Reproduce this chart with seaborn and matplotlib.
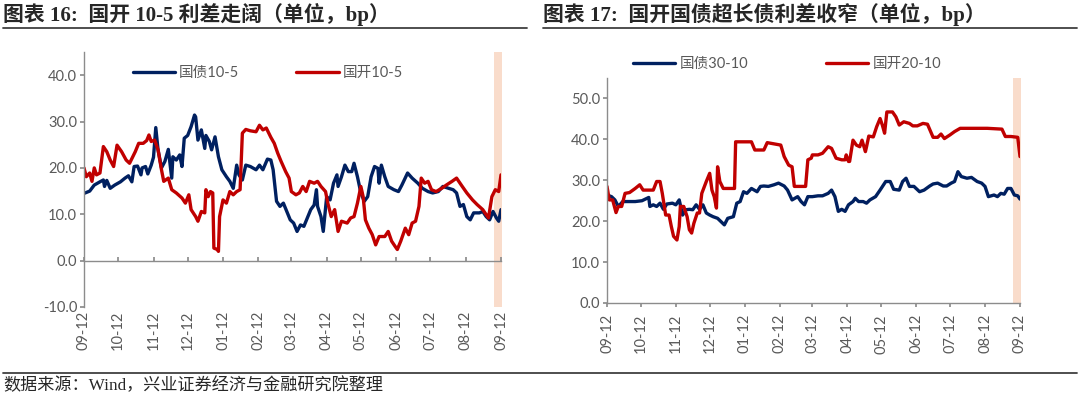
import pandas as pd
import matplotlib
matplotlib.use("Agg")
import matplotlib.pyplot as plt
import matplotlib.dates as mdates
from matplotlib.ticker import FormatStrFormatter, MultipleLocator
from matplotlib.lines import Line2D
import seaborn as sns

start = pd.Timestamp("2023-09-12")

# 图表16 (days after 2023-09-12, bp)
gz105_days = [0, 5, 9, 14, 17, 18, 20, 23, 27, 32, 36, 39, 42, 44, 47, 50, 51, 54, 56, 59,
              61, 63, 65, 68, 71, 74, 77, 78, 81, 84, 86, 88, 91, 94, 97, 98, 100, 103, 106, 107,
              110, 112, 115, 118, 121, 125, 128, 131, 134, 136, 139, 142, 146, 151, 154, 157, 161, 164, 166, 169,
              172, 175, 178, 181, 184, 187, 190, 193, 196, 199, 202, 204, 205, 208, 210, 213, 216, 219, 222, 223,
              226, 229, 232, 235, 237, 240, 243, 246, 249, 252, 255, 258, 259, 261, 264, 267, 272, 276, 279, 284,
              288, 293, 297, 302, 306, 311, 315, 320, 324, 327, 330, 333, 336, 339, 342, 347, 350, 353, 356, 359,
              362, 364, 366]
gz105_vals = [14.5, 15, 16.3, 17, 17.4, 16, 17.3, 15.6, 16.3, 17, 17.8, 18.3, 17, 20.3, 20.4, 18.5, 20, 20.3, 18.7, 20.6,
              22.3, 28.7, 23.9, 20, 21.4, 24, 17.8, 22.4, 21.7, 22.8, 20.3, 26.4, 27, 28.9, 31.4, 31, 26, 28.2, 24.2, 27,
              25.7, 23.9, 26.7, 22.4, 19.6, 18.1, 17.1, 15.6, 20.6, 18.5, 17.4, 20.6, 20.3, 19.6, 20.6, 19.6, 21.9, 21.7, 19.6, 12.8,
              11.7, 12.4, 10.6, 8.8, 8.1, 6.3, 7.7, 7.4, 9.2, 11, 12, 15.3, 11.7, 9.5, 6.3, 13.8, 13.1, 16.7, 18.5, 16,
              18.1, 20.6, 19.2, 19.2, 21, 18.1, 14.6, 12.8, 13.8, 18.1, 20.3, 19.9, 16.7, 20.6, 18.1, 16, 15.3, 14.9, 16.3, 18.9,
              17.8, 16.7, 15.6, 14.9, 14.6, 14.9, 16, 15.6, 15.3, 14.6, 11.7, 12.1, 9.5, 8.8, 10.3, 10.3, 10.6, 9.5, 8.8, 10.6,
              9.2, 8.5, 11]
gk105_days = [0, 2, 5, 7, 9, 11, 14, 17, 20, 23, 26, 29, 33, 37, 40, 45, 48, 52, 55, 57,
              59, 62, 65, 68, 70, 74, 77, 81, 86, 89, 92, 94, 98, 100, 103, 106, 107, 109, 111, 113,
              114, 117, 118, 119, 122, 125, 128, 131, 134, 137, 139, 142, 146, 151, 154, 157, 160, 164, 167, 170,
              173, 177, 180, 182, 186, 189, 192, 195, 198, 202, 205, 208, 212, 214, 217, 220, 223, 226, 231, 234,
              237, 240, 243, 245, 247, 250, 253, 256, 259, 264, 267, 270, 273, 275, 278, 282, 285, 288, 291, 294,
              296, 299, 302, 305, 309, 314, 318, 323, 327, 332, 336, 341, 345, 350, 355, 358, 361, 364, 366]
gk105_vals = [20, 18.1, 18.9, 17.1, 20, 18.5, 18.9, 24.6, 23.5, 21.7, 20.3, 24.9, 23.5, 21.7, 21, 23.5, 25.3, 25.3, 25.9, 27.1,
              25.7, 26, 23.9, 19.6, 17.1, 17.8, 15.3, 14.6, 13.5, 12.4, 14.2, 11, 9.5, 8.5, 10.6, 10.3, 15.3, 13.8, 14.9, 14.6,
              2.7, 2.4, 2, 9.5, 13.1, 12.4, 14.9, 14.2, 14.9, 15.3, 27.5, 28.3, 28, 27.8, 29.2, 28.2, 28.6, 26.6, 25.3, 23.2,
              21.4, 19.2, 17.8, 14.9, 14.2, 14.6, 16, 14.9, 17.1, 16.7, 17.1, 16, 14.9, 12.4, 9.5, 11, 6.3, 8.5, 8.1, 9.2,
              9.5, 12.4, 16, 13.8, 8.8, 7, 5.6, 3.4, 5.2, 5.2, 6.3, 4.2, 3.1, 2.4, 4.2, 7, 5.6, 8.1, 8.5, 11.7,
              17.8, 16.7, 17.1, 15.3, 14.9, 15.6, 16.3, 17.1, 17.8, 16, 14.6, 13.1, 12.1, 11, 9.2, 13.8, 15.3, 14.9, 18.5]

# 图表17
gz3010_days = [0, 4, 7, 10, 14, 19, 25, 31, 37, 38, 41, 44, 47, 50, 53, 58, 61, 64, 67, 70,
               73, 76, 79, 82, 85, 88, 91, 94, 98, 101, 104, 107, 112, 115, 118, 121, 124, 128, 133, 136,
               139, 143, 148, 152, 157, 160, 164, 169, 172, 175, 178, 182, 187, 191, 196, 199, 202, 205, 208, 211,
               214, 218, 220, 223, 227, 230, 233, 238, 242, 247, 251, 254, 259, 262, 265, 268, 272, 277, 281, 286,
               289, 293, 298, 301, 305, 308, 311, 314, 319, 323, 328, 332, 335, 338, 343, 346, 349, 352, 355, 358,
               361, 364, 366]
gz3010_vals = [26.4, 26, 25.2, 23.6, 24.8, 24.8, 24.8, 25, 25.8, 23.6, 24, 23.6, 24.4, 22.9, 24.2, 24.4, 24, 25.2, 21.5, 22.8,
               22.9, 22.8, 24, 22.9, 24, 22, 21.5, 21.1, 20.7, 19.9, 19.1, 20.7, 21.1, 24.4, 24.8, 27.2, 26.8, 28, 27.2, 28.5,
               28.6, 28.5, 28.9, 29.3, 28.6, 27.6, 25.2, 26, 24.8, 24, 26, 26, 26.2, 26.2, 26.8, 27.6, 26, 22.4, 22.9, 22.4,
               24, 24.8, 25.6, 24.8, 24.8, 24.4, 25.2, 26, 27.6, 29.7, 29.7, 27.8, 27.6, 29.7, 30.5, 28.5, 28.5, 27.2, 27.6, 28.6,
               29.1, 29.3, 28.6, 28.6, 29.3, 29.7, 32.1, 30.9, 30.5, 30.7, 29.7, 29.3, 28.5, 26, 26.4, 26, 26.8, 26.6, 28, 28,
               26.4, 26.2, 25.4]
gk2010_days = [0, 2, 5, 8, 10, 13, 16, 20, 25, 29, 32, 37, 41, 44, 47, 49, 52, 55, 57, 59,
               62, 64, 65, 68, 71, 73, 75, 77, 80, 82, 84, 88, 91, 93, 95, 97, 98, 100, 103, 109,
               113, 114, 121, 128, 131, 139, 142, 148, 154, 157, 161, 164, 166, 169, 176, 178, 181, 182, 187, 191,
               196, 199, 203, 208, 211, 212, 214, 215, 218, 221, 224, 226, 229, 230, 232, 236, 239, 242, 244, 246,
               248, 253, 256, 259, 263, 268, 271, 275, 280, 284, 289, 293, 296, 299, 304, 308, 313, 325, 337, 350,
               353, 358, 364, 366]
gk2010_vals = [28.5, 25.2, 25.2, 22.1, 23.6, 23.6, 26.8, 27, 28, 28.9, 27.6, 27.6, 27.6, 29.7, 29.7, 26.8, 21.5, 21.5, 18.7, 16.3,
               15.4, 18.7, 23.6, 23.6, 21.1, 17.9, 17.1, 19.5, 22, 22, 26.8, 29.7, 31.7, 27.6, 26, 23.2, 33.3, 29.7, 28, 28,
               28, 39.4, 39.4, 39.4, 37.4, 37.4, 39.2, 38.9, 38.6, 35.8, 33.7, 33.3, 28.5, 28.5, 28.5, 35, 35.4, 36.2, 36.2, 36.6,
               38.2, 37.8, 35.4, 35, 35, 36.2, 34.6, 34.6, 39.8, 38.6, 38.2, 39.8, 37, 38.2, 40.8, 40.6, 43.1, 45.1, 43.5, 41.5,
               46.7, 46.7, 45.5, 43.5, 44.3, 43.9, 43.3, 43.3, 43.9, 43.7, 40.5, 40.5, 41.3, 40.2, 41.1, 41.9, 42.7, 42.7, 42.7, 42.5,
               40.7, 40.7, 40.5, 35.8]

titles = ["图表 16:  国开 10-5 利差走阔（单位，bp）", "图表 17:  国开国债超长债利差收窄（单位，bp）"]
source = "数据来源：Wind，兴业证券经济与金融研究院整理"

BLUE = "#002060"
RED = "#C00000"
GREY = "#595959"
AXIS = "#8C8C8C"
BAND = "#F9DCCB"

sns.set_theme(style="white")
plt.rcParams["font.family"] = ["Lato", "Noto Sans CJK SC"]
serif = ["Liberation Serif", "Noto Sans CJK SC"]


def frame(days, vals):
    return pd.DataFrame({"date": start + pd.to_timedelta(days, unit="D"), "val": vals})


W, H = 1080, 397
fig = plt.figure(figsize=(W / 100, H / 100), dpi=100)
ax1 = fig.add_axes([84 / W, 1 - 307 / H, 417 / W, 255 / H])
ax2 = fig.add_axes([607 / W, 1 - 303 / H, 413 / W, 225 / H])

panels = [
    (ax1, [(gz105_days, gz105_vals, BLUE, "国债10-5"), (gk105_days, gk105_vals, RED, "国开10-5")], (-10, 45)),
    (ax2, [(gz3010_days, gz3010_vals, BLUE, "国债30-10"), (gk2010_days, gk2010_vals, RED, "国开20-10")], (0, 55)),
]

for ax, series, ylim in panels:
    ax.axvspan(start + pd.Timedelta(days=359.5), start + pd.Timedelta(days=366.6),
               color=BAND, lw=0, zorder=0, clip_on=False)
    for d, v, c, name in series:
        sns.lineplot(data=frame(d, v), x="date", y="val", color=c, lw=2.4, ax=ax, label=name)
    ax.set_xlim(start, start + pd.Timedelta(days=366))
    ax.set_ylim(*ylim)
    ax.set_xlabel("")
    ax.set_ylabel("")
    ax.yaxis.set_major_locator(MultipleLocator(10))
    ax.yaxis.set_major_formatter(FormatStrFormatter("%.1f"))
    ax.xaxis.set_major_locator(mdates.MonthLocator(bymonthday=12))
    ax.xaxis.set_major_formatter(mdates.DateFormatter("%m-%d"))
    for s in ["top", "right"]:
        ax.spines[s].set_visible(False)
    for s in ["left", "bottom"]:
        ax.spines[s].set_color(AXIS)
        ax.spines[s].set_linewidth(1)
    ax.tick_params(axis="y", left=True, direction="out", length=3, color=AXIS,
                   labelsize=10.5, labelcolor=GREY, pad=2)
    ax.tick_params(axis="x", bottom=True, length=3, color=AXIS, labelsize=10.5,
                   labelcolor=GREY, labelrotation=90)

# left chart: axis line at zero, labels stay below the plot
ax1.spines["bottom"].set_position(("data", 0))
ax1.tick_params(axis="x", direction="in", pad=36)
ax2.tick_params(axis="x", direction="out", pad=5)

ax1.legend(loc="center", bbox_to_anchor=(0.441, 0.918), ncol=2, frameon=False,
           handlelength=2.9, handletextpad=0.3, columnspacing=3.9, fontsize=10.5, labelcolor=GREY)
ax2.legend(loc="center", bbox_to_anchor=(0.436, 1.062), ncol=2, frameon=False,
           handlelength=2.9, handletextpad=0.3, columnspacing=5.3, fontsize=10.5, labelcolor=GREY)

# titles, rules and source note
fig.text(3 / W, 1 - 15 / H, titles[0], family=serif, weight="bold", fontsize=15, va="center", ha="left")
fig.text(543 / W, 1 - 15 / H, titles[1], family=serif, weight="bold", fontsize=15, va="center", ha="left")
for x0, x1 in [(3, 527), (543, 1077)]:
    fig.add_artist(Line2D([x0 / W, x1 / W], [1 - 28 / H, 1 - 28 / H], color="#404040", lw=1.3))
fig.add_artist(Line2D([3 / W, 1077 / W], [1 - 373 / H, 1 - 373 / H], color="#404040", lw=1.3))
fig.text(3 / W, 1 - 386 / H, source, family=serif, fontsize=12.3, va="center", ha="left")

fig.savefig("out.png", dpi=100)
